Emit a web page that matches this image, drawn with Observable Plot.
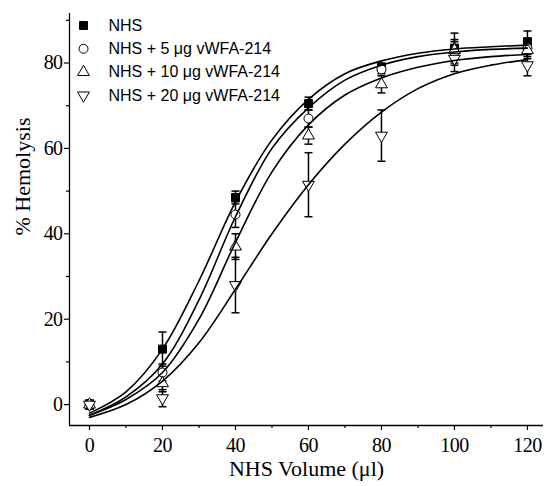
<!DOCTYPE html>
<html>
<head>
<meta charset="utf-8">
<script src="https://cdn.jsdelivr.net/npm/d3@7"></script>
<script src="https://cdn.jsdelivr.net/npm/@observablehq/plot@0.6"></script>
<style>
  html, body { margin: 0; padding: 0; background: #fff; }
  #chart svg .ticklbl text { letter-spacing: -0.6px; }
</style>
</head>
<body>
<div id="chart"></div>
<script>
// ---- data ----
const seriesNames = ["NHS", "NHS + 5 μg vWFA-214", "NHS + 10 μg vWFA-214", "NHS + 20 μg vWFA-214"];
const volumes = [0, 20, 40, 60, 80, 100, 120];
const nhs      = [0, 13, 48.5, 70.5, 79, 83.5, 85];
const nhsErr   = [1, 4, 1.5, 1.5, 1, 3.5, 2.5];
const nhs5     = [0, 7.5, 44.5, 67, 78.5, 82.5, 83.5];
const nhs5Err  = [1, 2, 3, 2, 1, 3, 2];
const nhs10    = [0, 5, 37, 63, 75, 83, 83];
const nhs10Err = [1, 2, 3, 2, 2, 2, 2];
const nhs20    = [0, 1.5, 28, 51.5, 63, 81, 79.5];
const nhs20Err = [1, 2, 6.5, 7.5, 6, 3, 2.5];

// fitted sigmoid curves, every 10 µl
const fitX     = [0, 10, 20, 30, 40, 50, 60, 70, 80, 90, 100, 110, 120];
const fitNhs   = [-2, 3, 13, 29, 47.5, 62, 71.5, 77.5, 80.5, 82.3, 83.3, 83.8, 84.2];
const fitNhs5  = [-2.5, 1.8, 9.5, 24.5, 44, 60, 69.5, 76, 79.5, 81.5, 82.6, 83.2, 83.5];
const fitNhs10 = [-2.5, 1.2, 7.5, 20, 38, 54.5, 65.5, 72.5, 76.5, 79, 80.6, 81.5, 82];
const fitNhs20 = [-3, 0, 5.5, 14.5, 27, 40, 51.5, 61, 68.5, 74, 77.5, 79.5, 80.8];

const xTicks = [0, 20, 40, 60, 80, 100, 120];
const xMinor = [10, 30, 50, 70, 90, 110];
const yTicks = [0, 20, 40, 60, 80];
const yMinor = [10, 30, 50, 70, 90];

// ---- tables ----
const means = [nhs, nhs5, nhs10, nhs20];
const errs = [nhsErr, nhs5Err, nhs10Err, nhs20Err];
const fits = [fitNhs, fitNhs5, fitNhs10, fitNhs20];

const points = means.map((m, s) => volumes.map((v, i) => ({s, x: v, y: m[i], e: errs[s][i]})));
const fitRows = fits.flatMap((f, s) => fitX.map((v, i) => ({s, x: v, y: f[i]})));

const downTriangle = {
  draw(ctx, size) {
    const y = -Math.sqrt(size / (Math.sqrt(3) * 3));
    ctx.moveTo(0, -y * 2);
    ctx.lineTo(-Math.sqrt(3) * y, y);
    ctx.lineTo(Math.sqrt(3) * y, y);
    ctx.closePath();
  }
};
const capSym = { draw(ctx) { ctx.moveTo(-4, 0); ctx.lineTo(4, 0); } };

const symbols = ["square", "circle", "triangle", downTriangle];
const fills = ["black", "white", "white", "white"];
const radii = [4.5, 4.5, 4.4, 4.4];

const serif = "'Liberation Serif', 'Times New Roman', serif";
const sans = "'Liberation Sans', Arial, sans-serif";

const marks = [];
// axis lines
marks.push(Plot.ruleX([-5.48], {y1: -4.9, y2: 91.6, stroke: "black", strokeWidth: 1.3}));
marks.push(Plot.ruleY([-4.9], {x1: -5.48, x2: 124.4, stroke: "black", strokeWidth: 1.3}));
// ticks
marks.push(Plot.axisX({ticks: xTicks, label: null, tickSize: 5, tickPadding: 7, fontSize: 20, fontFamily: serif, tickFormat: d => String(d), className: "ticklbl", strokeWidth: 1.2}));
marks.push(Plot.axisX({ticks: xMinor, label: null, tickSize: 3, text: null, strokeWidth: 1.2}));
marks.push(Plot.axisY({ticks: yTicks, label: null, tickSize: 5, tickPadding: 2, fontSize: 20, fontFamily: serif, tickFormat: d => String(d), className: "ticklbl", strokeWidth: 1.2}));
marks.push(Plot.axisY({ticks: yMinor, label: null, tickSize: 3, text: null, strokeWidth: 1.2}));

// error bars and markers
points.forEach((rows, s) => {
  marks.push(Plot.ruleX(rows, {x: "x", y1: d => d.y - d.e, y2: d => d.y + d.e, stroke: "black", strokeWidth: 1.5}));
  marks.push(Plot.dot(rows, {x: "x", y: d => d.y + d.e, symbol: capSym, stroke: "black", strokeWidth: 1.5}));
  marks.push(Plot.dot(rows, {x: "x", y: d => d.y - d.e, symbol: capSym, stroke: "black", strokeWidth: 1.5}));
});
points.forEach((rows, s) => {
  marks.push(Plot.dot(rows, {x: "x", y: "y", symbol: symbols[s], r: radii[s], fill: fills[s], stroke: "black", strokeWidth: 1}));
});
// fitted curves
marks.push(Plot.line(fitRows, {x: "x", y: "y", z: "s", curve: "catmull-rom", stroke: "black", strokeWidth: 1.6}));

// legend
seriesNames.forEach((name, s) => {
  marks.push(Plot.dot([name], {frameAnchor: "top-left", dx: 14, dy: 12 + 23.3 * s, symbol: symbols[s], r: radii[s], fill: fills[s], stroke: "black", strokeWidth: 1}));
  marks.push(Plot.text([name], {frameAnchor: "top-left", text: d => d, dx: 39, dy: 12 + 23.3 * s, textAnchor: "start", lineAnchor: "middle", fontSize: 16, fontFamily: sans, fill: "black"}));
});

// axis titles
marks.push(Plot.text(["NHS Volume (μl)"], {frameAnchor: "bottom", text: d => d, dy: 43, lineAnchor: "middle", fontSize: 22, fontFamily: serif, fill: "black"}));
marks.push(Plot.text(["% Hemolysis"], {frameAnchor: "left", text: d => d, dx: -47, dy: 16, rotate: -90, lineAnchor: "middle", fontSize: 22, fontFamily: serif, fill: "black"}));

const chart = Plot.plot({
  width: 546,
  height: 486,
  marginLeft: 69,
  marginRight: 3,
  marginTop: 13,
  marginBottom: 61,
  x: {domain: [-5.48, 124.4]},
  y: {domain: [-4.9, 91.6]},
  style: {background: "white", color: "black", overflow: "visible"},
  marks
});
document.getElementById("chart").appendChild(chart);
</script>
</body>
</html>
